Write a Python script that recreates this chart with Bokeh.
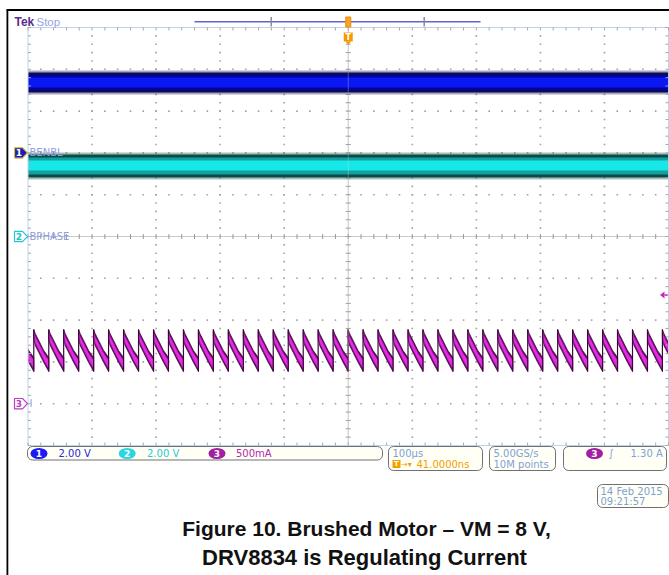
import numpy as np
from bokeh.plotting import figure
from bokeh.models import Range1d
from bokeh.embed import file_html
from bokeh.resources import INLINE
from bokeh.core.properties import value

# ---------------- data ----------------
time_per_div_us = 100            # 100 us/div
n_hdiv = 10
n_vdiv = 10
ch_names = ["BENBL", "BPHASE", "I"]
ch_scale_texts = ["2.00 V", "2.00 V", "500mA"]
ch1_V_per_div = 2.0
ch2_V_per_div = 2.0
ch3_A_per_div = 0.5
ch1_ground_div = 2.0
ch2_ground_div = 0.0
ch3_ground_div = -4.0
trigger_level_A = 1.30
trigger_pos_us = 0.0
timebase_text = "100\u00b5s"
trig_delay_text = "41.0000ns"
sample_texts = ["5.00GS/s", "10M points"]
trig_text = "1.30 A"
date_texts = ["14 Feb  2015", "09:21:57"]
caption_lines = ["Figure 10. Brushed Motor \u2013 VM = 8 V,", "DRV8834 is Regulating Current"]

# noise envelopes of the two logic channels (V): fuzz, outer, mid, core
ch1_env_hi_V = [3.94, 3.85, 3.70, 3.61]
ch1_env_lo_V = [2.79, 2.89, 3.03, 3.13]
ch2_env_hi_V = [4.02, 3.92, 3.78, 3.64]
ch2_env_lo_V = [2.73, 2.82, 2.97, 3.16]

# motor current sawtooth (A): start time of every tooth and the tooth profile
ch3_peak_times_us = [-514.4, -491.0, -467.6, -444.3, -420.9, -397.5, -374.2, -350.8,
                     -327.4, -304.0, -280.7, -257.3, -233.9, -210.6, -187.2, -163.8,
                     -140.5, -117.1, -93.7, -70.3, -47.0, -23.6, -0.2, 23.1, 46.5,
                     69.9, 93.3, 116.6, 140.0, 163.4, 186.7, 210.1, 233.5, 256.8,
                     280.2, 303.6, 327.0, 350.3, 373.7, 397.1, 420.4, 443.8, 467.2, 490.5]
ch3_tooth_tau_us = [0.0, 2.3, 7.8, 15.6, 23.4]
ch3_outer_hi_A = [0.888, 0.840, 0.756, 0.636, 0.553]
ch3_outer_lo_A = [0.780, 0.696, 0.612, 0.493, 0.385]
ch3_core_hi_A = [0.858, 0.804, 0.722, 0.603, 0.520]
ch3_core_lo_A = [0.810, 0.730, 0.645, 0.525, 0.418]

# ---------------- geometry (screen pixels of the graticule) ----------------
W, H = 669, 575
GL, GR, GT, GB = 27.5, 668.0, 27.0, 445.0
T_HALF = n_hdiv * time_per_div_us / 2
V_HALF = n_vdiv / 2
PX_US = (GR - GL) / (2 * T_HALF)
PX_DIV = (GB - GT) / (2 * V_HALF)


def X(px):
    return -T_HALF + (px - GL) / PX_US


def Y(py):
    return V_HALF - (py - GT) / PX_DIV


p = figure(width=W, height=H, x_range=Range1d(X(0), X(W)), y_range=Range1d(Y(H), Y(0)),
           output_backend="svg", toolbar_location=None, min_border=0,
           x_axis_location=None, y_axis_location=None, outline_line_color=None,
           background_fill_color="white", border_fill_color="white")
p.grid.visible = False

FONT = value("DejaVu Sans")

# ---------------- graticule ----------------
minor_x = np.arange(-T_HALF, T_HALF + 0.01, time_per_div_us / 5)
minor_y = np.arange(-V_HALF, V_HALF + 0.001, 0.2)
major_x = [x for x in np.arange(-T_HALF, T_HALF + 0.01, time_per_div_us) if abs(x) > 1 and abs(x) < T_HALF - 1]
major_y = [y for y in np.arange(-V_HALF, V_HALF + 0.001, 1.0) if abs(y) > 0.01 and abs(y) < V_HALF - 0.01]
dx, dy = [], []
for mx in major_x:
    for yy in minor_y[1:-1]:
        dx.append(mx); dy.append(yy)
for my in major_y:
    for xx in minor_x[1:-1]:
        dx.append(xx); dy.append(my)
p.scatter(dx, dy, marker="square", size=1.6, fill_color="#a2a2a2", line_color=None)

# centre cross with ticks
p.segment([0, -T_HALF], [-V_HALF, 0], [0, T_HALF], [V_HALF, 0], line_color="#c8c8c8", line_width=1)
tkx = 2.5 / PX_US
tky = 2.5 / PX_DIV
p.segment([-tkx] * len(minor_y), list(minor_y), [tkx] * len(minor_y), list(minor_y), line_color="#9a9a9a", line_width=1)
p.segment(list(minor_x), [-tky] * len(minor_x), list(minor_x), [tky] * len(minor_x), line_color="#9a9a9a", line_width=1)

# ---------------- channel 1 (blue) and channel 2 (teal) noise bands ----------------
ch1_cols = ["#3a3a7a", "#0b0b58", "#0000b4", "#0a18f2"]
ch1_alpha = [0.45, 1, 1, 1]
for hi, lo, c, a in zip(ch1_env_hi_V, ch1_env_lo_V, ch1_cols, ch1_alpha):
    p.varea(x=[-T_HALF, T_HALF], y1=[ch1_ground_div + lo / ch1_V_per_div] * 2,
            y2=[ch1_ground_div + hi / ch1_V_per_div] * 2, fill_color=c, fill_alpha=a)

ch2_cols = ["#3b6e6c", "#0c4a48", "#12a0a0", "#16e8e8"]
ch2_alpha = [0.45, 1, 1, 1]
for hi, lo, c, a in zip(ch2_env_hi_V, ch2_env_lo_V, ch2_cols, ch2_alpha):
    p.varea(x=[-T_HALF, T_HALF], y1=[ch2_ground_div + lo / ch2_V_per_div] * 2,
            y2=[ch2_ground_div + hi / ch2_V_per_div] * 2, fill_color=c, fill_alpha=a)

# ---------------- channel 3 (current) sawtooth ----------------
def tooth_polys(hi, lo):
    xs, ys = [], []
    for tp in ch3_peak_times_us:
        tx = [tp + t for t in ch3_tooth_tau_us]
        xs.append(tx + tx[::-1])
        ys.append([ch3_ground_div + a / ch3_A_per_div for a in hi] +
                  [ch3_ground_div + a / ch3_A_per_div for a in lo[::-1]])
    return xs, ys

ox, oy = tooth_polys(ch3_outer_hi_A, ch3_outer_lo_A)
p.patches(ox, oy, fill_color="#4c0c4c", line_color="#4c0c4c", line_width=0.8)
cx, cy = tooth_polys(ch3_core_hi_A, ch3_core_lo_A)
p.patches(cx, cy, fill_color="#e62ae6", line_color="#c020c0", line_width=0.6)
p.segment(ch3_peak_times_us, [ch3_ground_div + ch3_outer_lo_A[-1] / ch3_A_per_div] * len(ch3_peak_times_us),
          ch3_peak_times_us, [ch3_ground_div + ch3_outer_hi_A[0] / ch3_A_per_div] * len(ch3_peak_times_us),
          line_color="#3a0838", line_width=1.2)

# keep traces inside the graticule
p.quad(left=X(8), right=-T_HALF, bottom=Y(390), top=Y(310), fill_color="white", line_color=None)

# faint centre line over the traces
p.segment([0], [-V_HALF], [0], [V_HALF], line_color="#d0d0d0", line_alpha=0.35, line_width=1)

# ---------------- graticule border and edge ticks ----------------
p.line([-T_HALF, T_HALF, T_HALF, -T_HALF, -T_HALF], [V_HALF, V_HALF, -V_HALF, -V_HALF, V_HALF],
       line_color="#bfd2ee", line_width=1)
el = 3 / PX_DIV
ex = 3 / PX_US
p.segment(list(minor_x), [V_HALF] * len(minor_x), list(minor_x), [V_HALF - el] * len(minor_x), line_color="#a8a8a8")
p.segment(list(minor_x), [-V_HALF] * len(minor_x), list(minor_x), [-V_HALF + el] * len(minor_x), line_color="#a8a8a8")
p.segment([-T_HALF] * len(minor_y), list(minor_y), [-T_HALF + ex] * len(minor_y), list(minor_y), line_color="#a8a8a8")
p.segment([T_HALF] * len(minor_y), list(minor_y), [T_HALF - ex] * len(minor_y), list(minor_y), line_color="#a8a8a8")

# ---------------- page frame ----------------
p.segment([X(6.9), X(6)], [Y(575), Y(9.5)], [X(6.9), X(669)], [Y(9.5), Y(9.5)], line_color="black", line_width=1.8)

# ---------------- top status ----------------
p.text([X(14)], [Y(21)], ["Tek"], text_font=value("Liberation Sans"), text_font_size="12px", text_font_style="bold",
       text_color="#5b2d8e", text_baseline="middle")
p.text([X(36)], [Y(21)], ["Stop"], text_font=value("Liberation Sans"), text_font_size="11.5px",
       text_color="#9aa2e2", text_baseline="middle")
p.segment([X(194)], [Y(21.3)], [X(480)], [Y(21.3)], line_color="#6464d4", line_width=1.5)
p.segment([X(270.7), X(423.7)], [Y(16.5)] * 2, [X(270.7), X(423.7)], [Y(26)] * 2, line_color="#8c8c8c", line_width=1.5)
p.rect([trigger_pos_us], [Y(21.5)], width=5, height=10, width_units="screen", height_units="screen",
       fill_color="#f6a623", line_color="#f08c00")
p.rect([trigger_pos_us], [Y(36.5)], width=9, height=9, width_units="screen", height_units="screen",
       fill_color="#f59b00", line_color=None)
p.text([trigger_pos_us], [Y(36.5)], ["T"], text_font=FONT, text_font_size="8px", text_font_style="bold",
       text_color="white", text_align="center", text_baseline="middle")
p.patch([trigger_pos_us - 3 / PX_US, trigger_pos_us + 3 / PX_US, trigger_pos_us], [Y(41), Y(41), Y(44)],
        fill_color="#f59b00", line_color=None)

# ---------------- channel ground markers and names ----------------
mk_fill = ["#1c1cb8", "white", "white"]
mk_line = ["#d6c040", "#22c8d2", "#c03cc0"]
mk_text = ["white", "#22c0cc", "#c03cc0"]
grounds = [ch1_ground_div, ch2_ground_div, ch3_ground_div]
for i, g in enumerate(grounds):
    h = 5.2 / PX_DIV
    xs = [X(14), X(22), X(27), X(22), X(14)]
    ys = [g + h, g + h, g, g - h, g - h]
    p.patch(xs, ys, fill_color=mk_fill[i], line_color=mk_line[i], line_width=1.2)
    p.text([X(18.5)], [g], [str(i + 1)], text_font=FONT, text_font_size="9px", text_font_style="bold",
           text_color=mk_text[i], text_align="center", text_baseline="middle")
name_col = ["#8e9ede", "#8e9ede", "#8eaade"]
for i, g in enumerate(grounds):
    p.text([X(29)], [g], [ch_names[i]], text_font=FONT, text_font_size="10px",
           text_color=name_col[i], text_baseline="middle")

# trigger level marker (right edge)
tl = ch3_ground_div + trigger_level_A / ch3_A_per_div
p.patch([X(659.5), X(664), X(664)], [tl, tl + 3.5 / PX_DIV, tl - 3.5 / PX_DIV], fill_color="#c02cc0", line_color=None)
p.segment([X(664)], [tl], [X(667)], [tl], line_color="#c02cc0", line_width=1.5)

# ---------------- bottom readout boxes ----------------
boxes_l = [27, 388, 489, 563, 597]
boxes_r = [382, 482, 555, 666, 668]
boxes_t = [446, 446, 446, 446, 484]
boxes_b = [459.5, 470, 470, 470, 507]
p.quad(left=[X(v) for v in boxes_l], right=[X(v) for v in boxes_r], top=[Y(v) for v in boxes_t],
       bottom=[Y(v) for v in boxes_b], fill_color="#fffff6", line_color="#707070", line_width=1,
       border_radius=5)

ell_x = [38.5, 126.7, 216.5, 594]
ell_c = ["#1c1cf0", "#2ad6e0", "#a21ea2", "#a21ea2"]
ell_t = ["1", "2", "3", "3"]
p.ellipse([X(v) for v in ell_x], [Y(453)] * 4, width=17, height=11, width_units="screen", height_units="screen",
          fill_color=ell_c, line_color=None)
p.text([X(v) for v in ell_x], [Y(453)] * 4, ell_t, text_font=FONT, text_font_size="9px", text_font_style="bold",
       text_color="white", text_align="center", text_baseline="middle")
p.text([X(58), X(146.5), X(235.5)], [Y(453)] * 3, ch_scale_texts, text_font=FONT, text_font_size="10px",
       text_color=["#2828d8", "#26ccd6", "#b02ab0"], text_baseline="middle")

LB = "#7f9fd6"
p.text([X(392)], [Y(453)], [timebase_text], text_font=FONT, text_font_size="10px", text_color=LB, text_baseline="middle")
p.rect([X(396)], [Y(463.5)], width=8, height=8, width_units="screen", height_units="screen",
       fill_color="#f5a000", line_color=None)
p.text([X(396)], [Y(463.5)], ["T"], text_font=FONT, text_font_size="7px", text_font_style="bold",
       text_color="white", text_align="center", text_baseline="middle")
p.text([X(400.5)], [Y(463.5)], ["\u2192\u25be"], text_font=FONT, text_font_size="8px",
       text_color="#f0a000", text_baseline="middle")
p.text([X(416)], [Y(463.5)], [trig_delay_text], text_font=FONT, text_font_size="10px",
       text_color="#f0a000", text_baseline="middle")
p.text([X(493)] * 2, [Y(453), Y(463.5)], sample_texts, text_font=FONT, text_font_size="10px",
       text_color=LB, text_baseline="middle")
p.text([X(608)], [Y(453)], ["\u222b"], text_font=FONT, text_font_size="10px", text_color=LB, text_baseline="middle")
p.text([X(630)], [Y(453)], [trig_text], text_font=FONT, text_font_size="10px", text_color=LB, text_baseline="middle")
p.text([X(600)] * 2, [Y(490.5), Y(501)], date_texts, text_font=FONT, text_font_size="10px",
       text_color=LB, text_baseline="middle")

# ---------------- caption ----------------
p.text([X(366)], [Y(527.5)], [caption_lines[0]], text_font=value("Liberation Sans"),
       text_font_size="21px", text_font_style="bold", text_color="#111111",
       text_align="center", text_baseline="middle")
p.text([X(364)], [Y(556.5)], [caption_lines[1]], text_font=value("Liberation Sans"),
       text_font_size="22px", text_font_style="bold", text_color="#111111",
       text_align="center", text_baseline="middle")

open("out.html", "w").write(file_html(p, INLINE))
